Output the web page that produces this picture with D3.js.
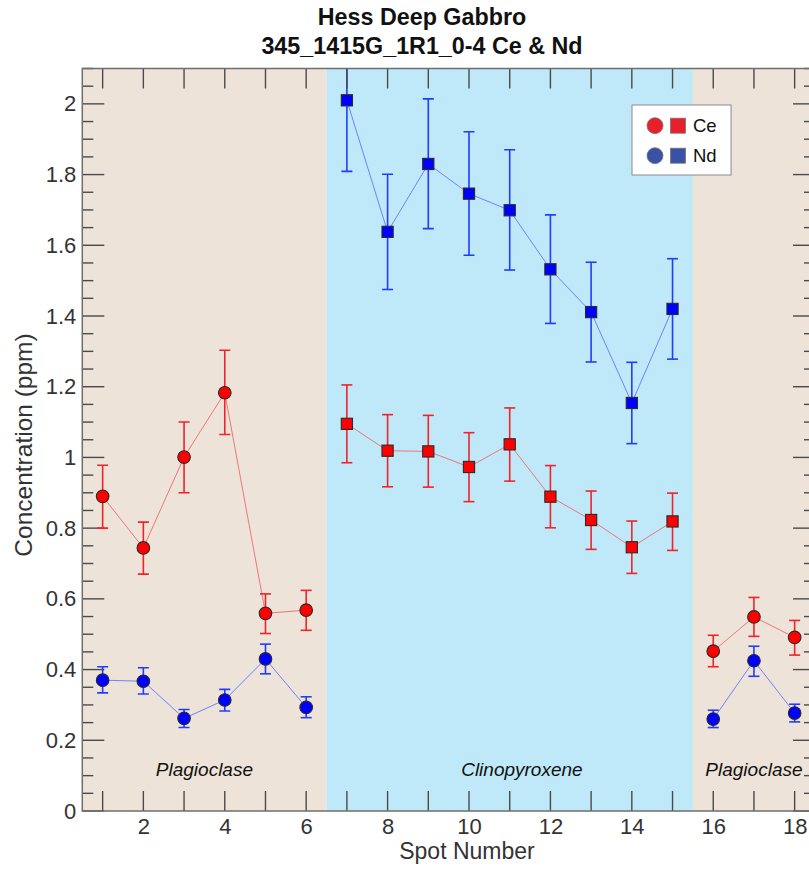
<!DOCTYPE html>
<html>
<head>
<meta charset="utf-8">
<script src="https://cdn.jsdelivr.net/npm/d3@7"></script>
<style>
  html, body { margin: 0; padding: 0; background: #fff; overflow: hidden; }
  svg { display: block; }
</style>
</head>
<body>
<script>
// ---------- DATA ----------
const titleLines = ["Hess Deep Gabbro", "345_1415G_1R1_0-4 Ce & Nd"];
const xLabel = "Spot Number";
const yLabel = "Concentration (ppm)";
const xTickValues = [2, 4, 6, 8, 10, 12, 14, 16, 18];
const yTickValues = [0, 0.2, 0.4, 0.6, 0.8, 1, 1.2, 1.4, 1.6, 1.8, 2];

// mineral zones
const zoneNames = ["Plagioclase", "Clinopyroxene", "Plagioclase"];
const zoneStart = [0.5, 6.5, 15.5];
const zoneEnd = [6.5, 15.5, 18.5];
const zoneLabelAt = [3.5, 11.3, 17];
const zoneKind = ["plag", "cpx", "plag"];

// Plagioclase spots 1-6 (circles)
const plagSpotsA = [1, 2, 3, 4, 5, 6];
const ceA = [0.890, 0.744, 1.001, 1.183, 0.559, 0.568];
const ceA_lo = [0.800, 0.670, 0.900, 1.065, 0.502, 0.511];
const ceA_hi = [0.978, 0.817, 1.100, 1.303, 0.614, 0.624];
const ndA = [0.370, 0.367, 0.262, 0.314, 0.430, 0.293];
const ndA_lo = [0.334, 0.331, 0.236, 0.283, 0.388, 0.264];
const ndA_hi = [0.408, 0.405, 0.287, 0.344, 0.472, 0.323];

// Clinopyroxene spots 7-15 (squares)
const cpxSpots = [7, 8, 9, 10, 11, 12, 13, 14, 15];
const ceC = [1.095, 1.019, 1.017, 0.973, 1.037, 0.889, 0.823, 0.746, 0.819];
const ceC_lo = [0.985, 0.917, 0.916, 0.875, 0.933, 0.801, 0.740, 0.672, 0.737];
const ceC_hi = [1.205, 1.121, 1.119, 1.070, 1.140, 0.977, 0.905, 0.820, 0.899];
const ndC = [2.010, 1.638, 1.830, 1.746, 1.699, 1.532, 1.411, 1.154, 1.420];
const ndC_lo = [1.809, 1.475, 1.647, 1.572, 1.530, 1.379, 1.270, 1.039, 1.278];
const ndC_hi = [2.211, 1.801, 2.014, 1.921, 1.870, 1.686, 1.552, 1.269, 1.562];

// Plagioclase spots 16-18 (circles)
const plagSpotsB = [16, 17, 18];
const ceB = [0.452, 0.549, 0.491];
const ceB_lo = [0.408, 0.494, 0.441];
const ceB_hi = [0.497, 0.604, 0.539];
const ndB = [0.260, 0.425, 0.277];
const ndB_lo = [0.236, 0.381, 0.252];
const ndB_hi = [0.285, 0.466, 0.302];

const legendNames = ["Ce", "Nd"];

// ---------- LAYOUT ----------
const W = 830, H = 869;
const pL = 82.3, pR = 815, pT = 68.5, pB = 811;

const svg = d3.select("body").append("svg").attr("width", W).attr("height", H);

const x = d3.scaleLinear().domain([0.5, 18.5]).range([pL, pR]);
const y = d3.scaleLinear().domain([0, 2.1]).range([pB, pT]);

const colors = {
  plagBg: "#eee3d8", cpxBg: "#bfe9f8",
  ceFill: "#ff0000", ndFill: "#0000ff",
  ceBar: "#f0222a", ndBar: "#1f3dff",
  ceLine: "#ea7878", ndLine: "#6f82ff",
  legCe: "#e8202a", legNd: "#3a52a6",
  frame: "#6e6e6e", tick: "#4a4a4a", text: "#333333"
};

svg.append("defs").append("clipPath").attr("id", "plotclip")
  .append("rect").attr("x", pL).attr("y", pT)
  .attr("width", pR - pL).attr("height", pB - pT);

// Background zones
const zones = zoneNames.map((n, i) => ({ name: n, s: zoneStart[i], e: zoneEnd[i], at: zoneLabelAt[i], kind: zoneKind[i] }));
svg.append("g").selectAll("rect").data(zones).join("rect")
  .attr("x", d => x(d.s)).attr("y", pT)
  .attr("width", d => x(d.e) - x(d.s)).attr("height", pB - pT)
  .attr("fill", d => d.kind === "cpx" ? colors.cpxBg : colors.plagBg);

// Zone labels
svg.append("g").selectAll("text").data(zones).join("text")
  .attr("x", d => x(d.at)).attr("y", 776)
  .attr("text-anchor", "middle")
  .attr("font-family", "Liberation Sans, Arial, sans-serif")
  .attr("font-style", "italic").attr("font-size", 19)
  .attr("fill", "#111").text(d => d.name);

// Ticks (inward, on all four sides)
const tickG = svg.append("g").attr("stroke", colors.tick).attr("stroke-width", 1.4);
const xTicksAll = d3.range(1, 19);
xTicksAll.forEach(v => {
  tickG.append("line").attr("x1", x(v)).attr("x2", x(v)).attr("y1", pB).attr("y2", pB - 20);
});
const yMinor = d3.range(0, 43).map(i => i * 0.05).filter(v => v <= 2.1 + 1e-9);
yMinor.forEach(v => {
  const major = Math.abs(v / 0.2 - Math.round(v / 0.2)) < 1e-6;
  const len = major ? 22 : 11;
  tickG.append("line").attr("x1", pL).attr("x2", pL + len).attr("y1", y(v)).attr("y2", y(v));
  tickG.append("line").attr("x1", pR).attr("x2", pR - len).attr("y1", y(v)).attr("y2", y(v));
});

// Axes labels via d3 axes (labels only)
const xAxis = d3.axisBottom(x).tickValues(xTickValues).tickSize(0).tickPadding(7).tickFormat(d3.format("d"));
const gx = svg.append("g").attr("transform", `translate(0,${pB})`).call(xAxis);
gx.select(".domain").remove();
gx.selectAll("text").attr("font-family", "Liberation Sans, Arial, sans-serif")
  .attr("font-size", 22).attr("fill", colors.text);

const yAxis = d3.axisLeft(y).tickValues(yTickValues).tickSize(0).tickPadding(6)
  .tickFormat(d => d3.format("~g")(d));
const gy = svg.append("g").attr("transform", `translate(${pL},0)`).call(yAxis);
gy.select(".domain").remove();
gy.selectAll("text").attr("font-family", "Liberation Sans, Arial, sans-serif")
  .attr("font-size", 22).attr("fill", colors.text);

// Data group (clipped)
const plot = svg.append("g").attr("clip-path", "url(#plotclip)");

function makeSeries(spots, vals, lo, hi) {
  return spots.map((s, i) => ({ s, v: vals[i], lo: lo[i], hi: hi[i] }));
}
const groups = [
  { shape: "circle", ce: makeSeries(plagSpotsA, ceA, ceA_lo, ceA_hi), nd: makeSeries(plagSpotsA, ndA, ndA_lo, ndA_hi) },
  { shape: "square", ce: makeSeries(cpxSpots, ceC, ceC_lo, ceC_hi), nd: makeSeries(cpxSpots, ndC, ndC_lo, ndC_hi) },
  { shape: "circle", ce: makeSeries(plagSpotsB, ceB, ceB_lo, ceB_hi), nd: makeSeries(plagSpotsB, ndB, ndB_lo, ndB_hi) }
];

const line = d3.line().x(d => x(d.s)).y(d => y(d.v));

function drawSeries(data, shape, lineCol, barCol, fillCol) {
  const g = plot.append("g");
  g.append("path").datum(data).attr("d", line).attr("fill", "none")
    .attr("stroke", lineCol).attr("stroke-width", 1);
  const eb = g.append("g").attr("stroke", barCol).attr("stroke-width", 1.6);
  data.forEach(d => {
    eb.append("line").attr("x1", x(d.s)).attr("x2", x(d.s)).attr("y1", y(d.lo)).attr("y2", y(d.hi));
    eb.append("line").attr("x1", x(d.s) - 5.5).attr("x2", x(d.s) + 5.5).attr("y1", y(d.lo)).attr("y2", y(d.lo));
    eb.append("line").attr("x1", x(d.s) - 5.5).attr("x2", x(d.s) + 5.5).attr("y1", y(d.hi)).attr("y2", y(d.hi));
  });
  if (shape === "circle") {
    g.append("g").selectAll("circle").data(data).join("circle")
      .attr("cx", d => x(d.s)).attr("cy", d => y(d.v)).attr("r", 6.3)
      .attr("fill", fillCol).attr("stroke", "#2a2a2a").attr("stroke-width", 1.1);
  } else {
    g.append("g").selectAll("rect").data(data).join("rect")
      .attr("x", d => x(d.s) - 5.6).attr("y", d => y(d.v) - 5.6)
      .attr("width", 11.2).attr("height", 11.2)
      .attr("fill", fillCol).attr("stroke", "#2a2a2a").attr("stroke-width", 1.1);
  }
}
groups.forEach(gr => {
  drawSeries(gr.ce, gr.shape, colors.ceLine, colors.ceBar, colors.ceFill);
  drawSeries(gr.nd, gr.shape, colors.ndLine, colors.ndBar, colors.ndFill);
});

// Top ticks drawn over data (as in reference)
const topTicks = svg.append("g").attr("stroke", colors.tick).attr("stroke-width", 1.4);
xTicksAll.forEach(v => {
  topTicks.append("line").attr("x1", x(v)).attr("x2", x(v)).attr("y1", pT).attr("y2", pT + 20);
});

// Frame
svg.append("rect").attr("x", pL).attr("y", pT)
  .attr("width", pR - pL).attr("height", pB - pT)
  .attr("fill", "none").attr("stroke", colors.frame).attr("stroke-width", 1.5);

// Legend
const lg = svg.append("g");
lg.append("rect").attr("x", 632).attr("y", 105).attr("width", 99).attr("height", 70)
  .attr("fill", "#fff").attr("stroke", "#8a8a8a").attr("stroke-width", 1);
legendNames.forEach((n, i) => {
  const cy = 125.7 + i * 30;
  const col = i === 0 ? colors.legCe : colors.legNd;
  lg.append("circle").attr("cx", 655).attr("cy", cy).attr("r", 8)
    .attr("fill", col).attr("stroke", "#777").attr("stroke-width", 0.8);
  lg.append("rect").attr("x", 670.5).attr("y", cy - 7.5).attr("width", 15).attr("height", 15)
    .attr("fill", col).attr("stroke", "#777").attr("stroke-width", 0.8);
  lg.append("text").attr("x", 693).attr("y", cy + 6.5)
    .attr("font-family", "Liberation Sans, Arial, sans-serif").attr("font-size", 18.5)
    .attr("fill", "#111").text(n);
});

// Title
svg.append("g").selectAll("text").data(titleLines).join("text")
  .attr("x", 422).attr("y", (d, i) => 25 + i * 29)
  .attr("text-anchor", "middle")
  .attr("font-family", "Liberation Sans Narrow, Arial Narrow, Liberation Sans, sans-serif")
  .attr("font-weight", "bold").attr("font-size", 23.3)
  .attr("fill", "#111").text(d => d);

// Axis titles
svg.append("text").attr("x", 467).attr("y", 859)
  .attr("text-anchor", "middle")
  .attr("font-family", "Liberation Sans, Arial, sans-serif").attr("font-size", 23)
  .attr("fill", colors.text).text(xLabel);

svg.append("text").attr("transform", `translate(32,445) rotate(-90)`)
  .attr("text-anchor", "middle")
  .attr("font-family", "Liberation Sans, Arial, sans-serif").attr("font-size", 24.5)
  .attr("fill", colors.text).text(yLabel);
</script>
</body>
</html>
